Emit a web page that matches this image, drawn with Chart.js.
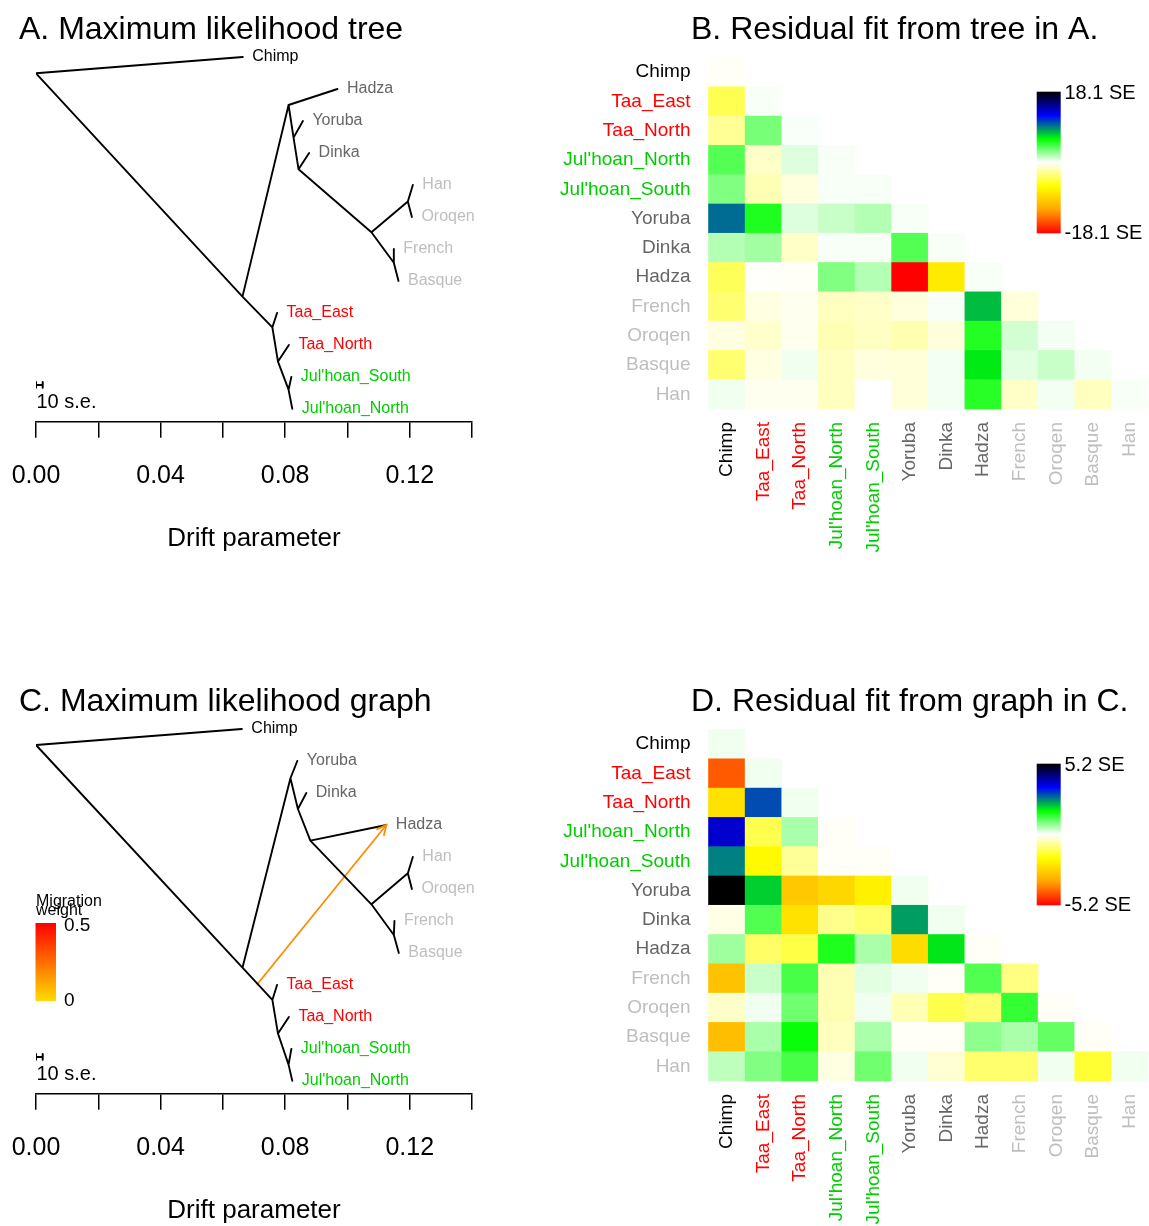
<!DOCTYPE html>
<html>
<head>
<meta charset="utf-8">
<script src="https://cdn.jsdelivr.net/npm/chart.js@4.4.1/dist/chart.umd.min.js"></script>
<style>
  html, body { margin: 0; padding: 0; background: #fff; }
  #page { position: relative; width: 1149px; height: 1226px; overflow: hidden; }
  canvas { position: absolute; }
</style>
</head>
<body>
<div id="page">
  <canvas id="treeA" width="575" height="554" style="left:0;top:0"></canvas>
  <canvas id="heatB" width="609" height="554" style="left:540px;top:0"></canvas>
  <canvas id="treeC" width="575" height="554" style="left:0;top:672px"></canvas>
  <canvas id="heatD" width="609" height="554" style="left:540px;top:672px"></canvas>
</div>
<script>
// ---- data ----
var popNames = ["Chimp", "Taa_East", "Taa_North", "Jul'hoan_North", "Jul'hoan_South",
  "Yoruba", "Dinka", "Hadza", "French", "Oroqen", "Basque", "Han"];

var driftTicks = [0, 0.02, 0.04, 0.06, 0.08, 0.10, 0.12, 0.14];
var driftTickLabels = ["0.00", "", "0.04", "", "0.08", "", "0.12", ""];

// tree A: node names, drift (x), tip order position (y), parent index
var treeNodeA = ["root", "Chimp", "n1", "n2", "Hadza", "n3", "Yoruba", "n4", "Dinka", "n5",
  "n6", "Han", "Oroqen", "n7", "French", "Basque", "n8", "Taa_East", "n9", "Taa_North",
  "n10", "Jul'hoan_South", "Jul'hoan_North"];
var treeXA = [0, 0.0664, 0.0663, 0.0811, 0.0968, 0.0827, 0.0857, 0.0843, 0.0877, 0.1077,
  0.1194, 0.1210, 0.1207, 0.1149, 0.1149, 0.1164, 0.0759, 0.0774, 0.0777, 0.0812,
  0.0811, 0.0820, 0.0823];
var treeYA = [0.51, 0, 7.49, 1.5, 1, 2.52, 2, 3.51, 3, 5.48,
  4.52, 4, 5, 6.43, 6, 7, 8.45, 8, 9.52, 9,
  10.4, 10, 11];
var treeParentA = [-1, 0, 0, 2, 3, 3, 5, 5, 7, 7,
  9, 10, 10, 9, 13, 13, 2, 16, 16, 18,
  18, 20, 20];

// graph C
var treeNodeC = ["root", "Chimp", "n1", "n2", "Yoruba", "n3", "Dinka", "n4", "Hadza", "n5",
  "n6", "Han", "Oroqen", "n7", "French", "Basque", "n8", "Taa_East", "n9", "Taa_North",
  "n10", "Jul'hoan_South", "Jul'hoan_North"];
var treeXC = [0, 0.0661, 0.0663, 0.0817, 0.0839, 0.0841, 0.0868, 0.0881, 0.1125, 0.1077,
  0.1194, 0.1210, 0.1207, 0.1149, 0.1151, 0.1165, 0.0759, 0.0774, 0.0777, 0.0812,
  0.0811, 0.0820, 0.0823];
var treeYC = [0.5, 0, 7.46, 1.54, 1, 2.5, 2, 3.49, 3, 5.48,
  4.51, 4, 5, 6.44, 6, 7, 8.47, 8, 9.52, 9,
  10.49, 10, 11];
var treeParentC = [-1, 0, 0, 2, 3, 3, 5, 5, 7, 7,
  9, 10, 10, 9, 13, 13, 2, 16, 16, 18,
  18, 20, 20];

// migration edge in C: from a point on the branch above Taa/Jul'hoan to Hadza
var migFrom = [0.0711, 7.97];
var migTo = [0.1125, 3];
var migWeightMax = 0.5;

// length of 10 s.e. in drift units
var seBar = 0.00215;

// residuals (lower triangle, rows/cols in popNames order), in SE units
var residTreeMax = 18.1;
var residTree = [
  [-0.2],
  [-4.1, 0.2],
  [-2.5, 3.2, 0.15],
  [4.1, -1.3, 0.8, 0.2],
  [3.0, -1.8, -0.8, 0.2, 0.2],
  [9.5, 5.3, 0.8, 1.3, 1.8, 0.2],
  [1.8, 2.2, -1.3, 0.2, 0.2, 4.1, 0.2],
  [-3.9, -0.1, -0.2, 3.0, 1.8, -18.1, -7.4, 0.2],
  [-3.4, -0.7, -0.35, -1.5, -1.3, -0.8, 0.2, 7.6, -0.9],
  [-0.7, -1.2, -0.35, -1.8, -1.4, -1.9, -0.8, 5.2, 1.1, 0.3],
  [-3.4, -0.7, 0.35, -1.5, -0.8, -0.9, 0.3, 6.5, 0.7, 1.3, 0.3],
  [0.35, -0.35, -0.35, -1.5, 0.0, -0.9, 0.3, 5.1, -1.3, 0.3, -1.5, 0.2]
];

var residGraphMax = 5.2;
var residGraph = [
  [0.1],
  [-4.25, 0.1],
  [-2.3, 2.95, 0.1],
  [3.8, -1.2, 0.58, -0.05],
  [2.6, -1.83, -0.71, -0.05, -0.05],
  [5.2, 2.05, -2.8, -2.5, -2.0, 0.1],
  [-0.17, 1.19, -2.3, -0.78, -0.99, 2.4, 0.1],
  [0.65, -1.05, -1.26, 1.53, 0.58, -2.4, 1.9, -0.05],
  [-2.9, 0.37, 1.26, -0.51, 0.2, 0.1, -0.05, 1.19, -0.85],
  [-0.37, 0.1, 0.98, -0.51, 0.1, -0.5, -1.2, -0.99, 1.39, -0.05],
  [-2.98, 0.58, 1.67, -0.44, 0.58, -0.05, -0.05, 0.78, 0.58, 1.06, -0.05],
  [0.44, 0.85, 1.26, -0.2, 0.98, 0.1, -0.3, -0.99, -0.99, 0.1, -1.39, 0.1]
];

// ---- styles ----
var FONT = '"Liberation Sans", Arial, Helvetica, sans-serif';
var labelColor = {
  "Chimp": "#000000",
  "Taa_East": "#ff0000", "Taa_North": "#ff0000",
  "Jul'hoan_North": "#00cd00", "Jul'hoan_South": "#00cd00",
  "Yoruba": "#666666", "Dinka": "#666666", "Hadza": "#666666",
  "French": "#bebebe", "Oroqen": "#bebebe", "Basque": "#bebebe", "Han": "#bebebe"
};
// red -> orange -> yellow -> white -> green -> blue -> black
var RAMP = [[255, 0, 0], [255, 165, 0], [255, 255, 0], [255, 255, 255], [0, 255, 0], [0, 0, 255], [0, 0, 0]];
var MIG_COLOR = "#ff8c00";
var HEAT_LEFT = 540; // page x of heatmap canvases

Chart.defaults.font.family = FONT;
Chart.defaults.color = "#000";

function rgb(c) { return "rgb(" + Math.round(c[0]) + "," + Math.round(c[1]) + "," + Math.round(c[2]) + ")"; }

function rampColor(t) {
  t = Math.max(0, Math.min(1, t));
  var p = t * (RAMP.length - 1);
  var i = Math.min(RAMP.length - 2, Math.floor(p));
  var f = p - i, a = RAMP[i], b = RAMP[i + 1];
  return rgb([a[0] + (b[0] - a[0]) * f, a[1] + (b[1] - a[1]) * f, a[2] + (b[2] - a[2]) * f]);
}

function treeSegments(xs, ys, parent) {
  var pts = [];
  for (var i = 0; i < xs.length; i++) {
    var p = parent[i];
    if (p < 0) continue;
    pts.push({ x: xs[p], y: ys[p] });
    pts.push({ x: xs[i], y: ys[i] });
    pts.push({ x: null, y: null });
  }
  return pts;
}

function seBarPoints(y) {
  return [
    { x: 0, y: y }, { x: seBar, y: y }, { x: null, y: null },
    { x: 0, y: y - 0.09 }, { x: 0, y: y + 0.09 }, { x: null, y: null },
    { x: seBar, y: y - 0.09 }, { x: seBar, y: y + 0.09 }
  ];
}

function lineSet(data, color, width) {
  return {
    data: data, showLine: true, spanGaps: false, pointRadius: 0, pointHoverRadius: 0,
    borderColor: color, borderWidth: width, tension: 0, borderCapStyle: "round"
  };
}

function noPad(s) {
  s.paddingLeft = 0; s.paddingRight = 0; s.paddingTop = 0; s.paddingBottom = 0;
}

function makeTree(id, names, xs, ys, parent, title, withMigration) {
  var datasets = [
    lineSet(treeSegments(xs, ys, parent), "#000", 1.9),
    lineSet(seBarPoints(10.25), "#000", 2)
  ];
  if (withMigration) {
    datasets.push(lineSet([{ x: migFrom[0], y: migFrom[1] }, { x: migTo[0], y: migTo[1] }], MIG_COLOR, 1.8));
  }

  var textPlugin = {
    id: "treeText",
    afterDraw: function (chart) {
      var ctx = chart.ctx, sx = chart.scales.x, sy = chart.scales.y;
      ctx.save();
      ctx.font = "16px " + FONT;
      ctx.textAlign = "left";
      ctx.textBaseline = "middle";
      for (var i = 0; i < names.length; i++) {
        if (!labelColor[names[i]]) continue;
        ctx.fillStyle = labelColor[names[i]];
        ctx.fillText(names[i], sx.getPixelForValue(xs[i]) + 9.5, sy.getPixelForValue(ys[i]));
      }
      ctx.fillStyle = "#000";
      ctx.font = "32px " + FONT;
      ctx.textBaseline = "alphabetic";
      ctx.fillText(title, 19, 39);
      ctx.font = "20px " + FONT;
      ctx.textBaseline = "middle";
      ctx.fillText("10 s.e.", sx.getPixelForValue(0) + 0.5, 402);

      if (withMigration) {
        // arrow head at the receiving end
        var x0 = sx.getPixelForValue(migFrom[0]), y0 = sy.getPixelForValue(migFrom[1]);
        var x1 = sx.getPixelForValue(migTo[0]), y1 = sy.getPixelForValue(migTo[1]);
        var ang = Math.atan2(y1 - y0, x1 - x0), L = 11, spread = 0.45;
        ctx.strokeStyle = MIG_COLOR;
        ctx.lineWidth = 1.8;
        ctx.beginPath();
        ctx.moveTo(x1 - L * Math.cos(ang - spread), y1 - L * Math.sin(ang - spread));
        ctx.lineTo(x1, y1);
        ctx.lineTo(x1 - L * Math.cos(ang + spread), y1 - L * Math.sin(ang + spread));
        ctx.stroke();

        // migration weight legend
        ctx.fillStyle = "#000";
        ctx.font = "16px " + FONT;
        ctx.textBaseline = "alphabetic";
        ctx.fillText("Migration", 36, 234);
        ctx.fillText("weight", 36, 243);
        var g = ctx.createLinearGradient(0, 251, 0, 329);
        g.addColorStop(0, "#ff0000");
        g.addColorStop(1, "#ffdc00");
        ctx.fillStyle = g;
        ctx.fillRect(35.5, 251, 20.5, 78);
        ctx.fillStyle = "#000";
        ctx.font = "19px " + FONT;
        ctx.textBaseline = "middle";
        ctx.fillText(String(migWeightMax), 64, 254);
        ctx.fillText("0", 64, 329);
      }
      ctx.restore();
    }
  };

  return new Chart(document.getElementById(id), {
    type: "scatter",
    data: { datasets: datasets },
    options: {
      responsive: false,
      animation: false,
      events: [],
      layout: { padding: { left: 36, right: 103, top: 41, bottom: 0 } },
      plugins: { legend: { display: false }, tooltip: { enabled: false } },
      scales: {
        x: {
          type: "linear", min: 0, max: 0.14,
          afterBuildTicks: function (s) {
            s.ticks = driftTicks.map(function (v) { return { value: v }; });
          },
          afterFit: function (s) { s.height = 554 - 421.7; noPad(s); },
          grid: { display: true, drawOnChartArea: false, drawTicks: true, tickLength: 16, color: "#000", lineWidth: 1.5 },
          border: { display: true, color: "#000", width: 1.5 },
          ticks: {
            autoSkip: false, maxRotation: 0, padding: 23, color: "#000",
            font: { size: 25 },
            callback: function (v, i) { return driftTickLabels[i]; }
          },
          title: {
            display: true, text: "Drift parameter", color: "#000",
            font: { size: 26, lineHeight: 1.2 }, padding: { top: 0, bottom: 0 }
          }
        },
        y: { type: "linear", display: false, min: -0.5, max: 11.4, reverse: true }
      }
    },
    plugins: [textPlugin]
  });
}

function makeHeat(id, resid, maxSE, title) {
  var off = 575 - HEAT_LEFT;
  var cells = [];
  for (var i = 0; i < resid.length; i++) {
    for (var j = 0; j < resid[i].length; j++) {
      cells.push({ x: j, y: i, v: resid[i][j] });
    }
  }

  var cellPlugin = {
    id: "cells",
    beforeDatasetsDraw: function (chart) {
      var ctx = chart.ctx, sx = chart.scales.x, sy = chart.scales.y;
      var meta = chart.getDatasetMeta(0);
      var ds = chart.data.datasets[0].data;
      ctx.save();
      for (var k = 0; k < meta.data.length; k++) {
        var d = ds[k];
        var l = sx.getPixelForValue(d.x - 0.5), r = sx.getPixelForValue(d.x + 0.5);
        var t = sy.getPixelForValue(d.y - 0.5), b = sy.getPixelForValue(d.y + 0.5);
        ctx.fillStyle = rampColor((d.v / maxSE + 1) / 2);
        ctx.fillRect(l - 0.3, t - 0.3, r - l + 0.6, b - t + 0.6);
      }
      ctx.restore();
    },
    afterDraw: function (chart) {
      var ctx = chart.ctx;
      ctx.save();
      ctx.fillStyle = "#000";
      ctx.font = "32px " + FONT;
      ctx.textAlign = "left";
      ctx.textBaseline = "alphabetic";
      ctx.fillText(title, 116 + off, 39);
      // colour bar
      var top = 91.7, bot = 233.3;
      var g = ctx.createLinearGradient(0, top, 0, bot);
      for (var s = 0; s < RAMP.length; s++) {
        g.addColorStop(s / (RAMP.length - 1), rgb(RAMP[RAMP.length - 1 - s]));
      }
      ctx.fillStyle = g;
      ctx.fillRect(461.7 + off, top, 24, bot - top);
      ctx.fillStyle = "#000";
      ctx.font = "20px " + FONT;
      ctx.textBaseline = "middle";
      ctx.fillText(maxSE.toFixed(1) + " SE", 489.5 + off, top + 2);
      ctx.fillText("-" + maxSE.toFixed(1) + " SE", 489.5 + off, bot);
      ctx.restore();
    }
  };

  function tickColor(c) { return labelColor[popNames[c.index]] || "#000"; }
  function setTicks(s) { s.ticks = popNames.map(function (n, i) { return { value: i }; }); }

  return new Chart(document.getElementById(id), {
    type: "scatter",
    data: { datasets: [{ data: cells, pointRadius: 0, pointHoverRadius: 0 }] },
    options: {
      responsive: false,
      animation: false,
      events: [],
      layout: { padding: { left: 0, right: 1, top: 57.5, bottom: 0 } },
      plugins: { legend: { display: false }, tooltip: { enabled: false } },
      scales: {
        x: {
          type: "linear", min: -0.5, max: 11.5,
          afterBuildTicks: setTicks,
          afterFit: function (s) { s.height = 554 - 409; noPad(s); },
          grid: { display: false, drawTicks: false },
          border: { display: false },
          ticks: {
            autoSkip: false, minRotation: 90, maxRotation: 90, padding: 13,
            font: { size: 19 }, color: tickColor,
            callback: function (v) { return popNames[v]; }
          }
        },
        y: {
          type: "linear", min: -0.5, max: 11.5, reverse: true,
          afterBuildTicks: setTicks,
          afterFit: function (s) { s.width = 708.5 - HEAT_LEFT; noPad(s); },
          grid: { display: false, drawTicks: false },
          border: { display: false },
          ticks: {
            autoSkip: false, padding: 18,
            font: { size: 19 }, color: tickColor,
            callback: function (v) { return popNames[v]; }
          }
        }
      }
    },
    plugins: [cellPlugin]
  });
}

makeTree("treeA", treeNodeA, treeXA, treeYA, treeParentA, "A. Maximum likelihood tree", false);
makeHeat("heatB", residTree, residTreeMax, "B. Residual fit from tree in A.");
makeTree("treeC", treeNodeC, treeXC, treeYC, treeParentC, "C. Maximum likelihood graph", true);
makeHeat("heatD", residGraph, residGraphMax, "D. Residual fit from graph in C.");
</script>
</body>
</html>
